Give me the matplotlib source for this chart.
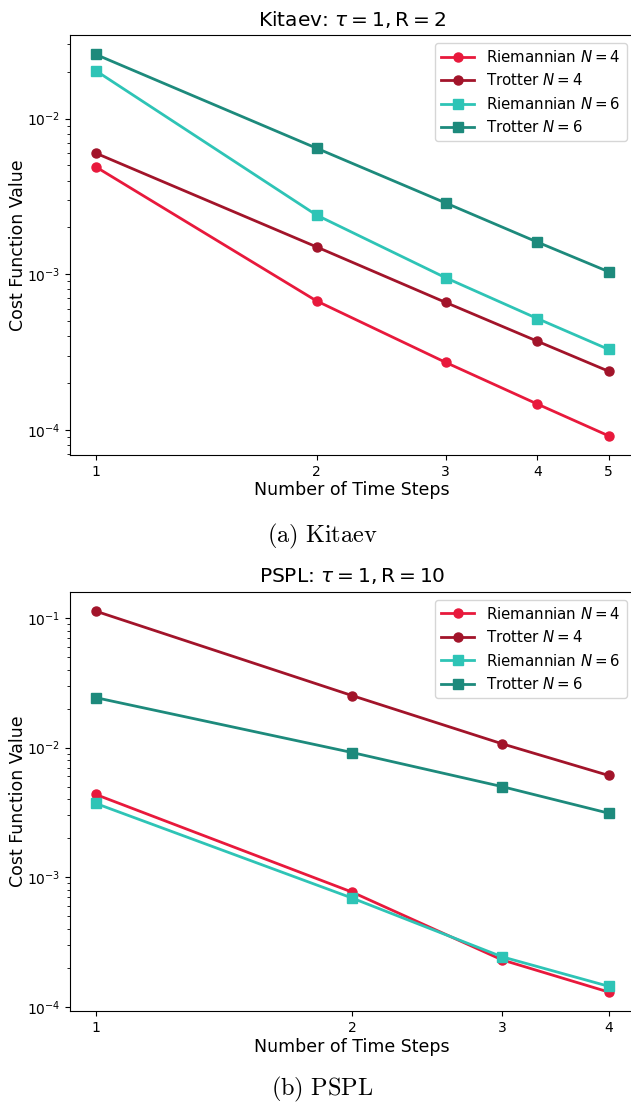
import numpy as np
import matplotlib
matplotlib.use('Agg')
import matplotlib.pyplot as plt
from matplotlib.ticker import NullLocator, FixedLocator, FixedFormatter


# 数据：Kitaev (a)
kitaev_steps = [1, 2, 3, 4, 5]
kitaev_riem_n4 = [4.9e-3, 6.75e-4, 2.72e-4, 1.47e-4, 9.2e-5]
kitaev_trot_n4 = [6.0e-3, 1.50e-3, 6.6e-4, 3.72e-4, 2.39e-4]
kitaev_riem_n6 = [2.03e-2, 2.40e-3, 9.5e-4, 5.2e-4, 3.3e-4]
kitaev_trot_n6 = [2.58e-2, 6.45e-3, 2.87e-3, 1.61e-3, 1.04e-3]

# 数据：PSPL (b)
pspl_steps = [1, 2, 3, 4]
pspl_riem_n4 = [4.35e-3, 7.67e-4, 2.30e-4, 1.30e-4]
pspl_trot_n4 = [0.113, 2.52e-2, 1.07e-2, 6.1e-3]
pspl_riem_n6 = [3.71e-3, 6.9e-4, 2.43e-4, 1.44e-4]
pspl_trot_n6 = [2.43e-2, 9.16e-3, 5.0e-3, 3.12e-3]

labels = [r'Riemannian $N=4$', r'Trotter $N=4$', r'Riemannian $N=6$', r'Trotter $N=6$']
colors = ['#e8193c', '#a2142a', '#2ec4b6', '#1d8a7c']
markers = ['o', 'o', 's', 's']


def draw_panel(ax, steps, series, title):
    for ys, lab, c, m in zip(series, labels, colors, markers):
        ax.plot(steps, ys, color=c, marker=m, lw=2, ms=6.5, label=lab)
    ax.set_xscale('log')
    ax.set_yscale('log')
    ax.xaxis.set_major_locator(FixedLocator(steps))
    ax.xaxis.set_major_formatter(FixedFormatter([str(s) for s in steps]))
    ax.xaxis.set_minor_locator(NullLocator())
    ax.tick_params(labelsize=10)
    ax.set_title(title, fontsize=14.5, pad=7)
    ax.set_xlabel('Number of Time Steps', fontsize=12.5, labelpad=2)
    ax.set_ylabel('Cost Function Value', fontsize=12.5, labelpad=0)
    ax.legend(loc='upper right', fontsize=10.8, handlelength=2.2)


fig = plt.figure(figsize=(6.31, 11.04), dpi=100)
ax1 = fig.add_axes([0.111, 0.588, 0.894, 0.380])
ax2 = fig.add_axes([0.111, 0.0842, 0.894, 0.3795])

draw_panel(ax1, kitaev_steps,
           [kitaev_riem_n4, kitaev_trot_n4, kitaev_riem_n6, kitaev_trot_n6],
           r'Kitaev: $\tau = 1, \mathrm{R} = 2$')
draw_panel(ax2, pspl_steps,
           [pspl_riem_n4, pspl_trot_n4, pspl_riem_n6, pspl_trot_n6],
           r'PSPL: $\tau = 1, \mathrm{R} = 10$')

# 子图说明（LaTeX 风格字体）
fig.text(0.51, 1 - 536 / 1104, r'$\mathrm{(a)\ Kitaev}$', ha='center', va='center',
         fontsize=17.5, math_fontfamily='cm')
fig.text(0.51, 1 - 1089 / 1104, r'$\mathrm{(b)\ PSPL}$', ha='center', va='center',
         fontsize=17.5, math_fontfamily='cm')

fig.savefig('out.png', dpi=100)
